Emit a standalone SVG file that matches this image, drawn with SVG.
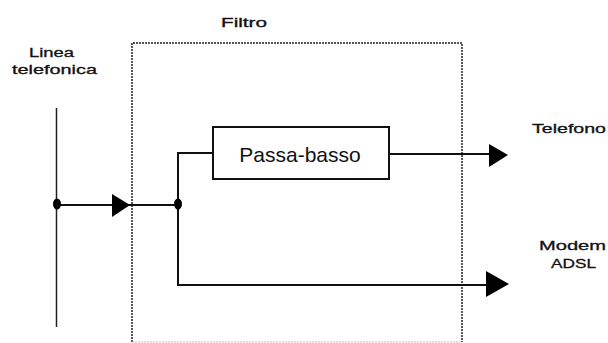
<svg xmlns="http://www.w3.org/2000/svg" width="608" height="343" viewBox="0 0 608 343">
<style>
.lbl{font-family:"Liberation Sans",Arial,sans-serif;font-size:13px;fill:#111;stroke:#111;stroke-width:0.3}
.wire{fill:none;stroke:#111;stroke-width:2}
.head{fill:#000}
</style>
<rect width="608" height="343" fill="#fff"/>
<g id="filtro">
<path d="M132,342 V43 H462 V342" fill="none" stroke="#222" stroke-width="1.5" stroke-dasharray="2,1"/>
<line x1="132" y1="342" x2="462" y2="342" stroke="#bbb" stroke-width="1" stroke-dasharray="2,1"/>
<text class="lbl" x="221" y="27" textLength="46" lengthAdjust="spacingAndGlyphs">Filtro</text>
</g>
<g id="linea">
<line x1="56.5" y1="108" x2="56.5" y2="327" stroke="#222" stroke-width="1.5"/>
<text class="lbl" x="29" y="57" textLength="45" lengthAdjust="spacingAndGlyphs">Linea</text>
<text class="lbl" x="12" y="74" textLength="85" lengthAdjust="spacingAndGlyphs">telefonica</text>
</g>
<g id="passa-basso">
<rect x="213" y="127" width="176" height="52" fill="#fff" stroke="#111" stroke-width="2"/>
<text x="300" y="162" style="font-family:'Liberation Sans',Arial,sans-serif;font-size:21px;fill:#111;text-anchor:middle">Passa-basso</text>
</g>
<g id="telefono">
<text class="lbl" x="532" y="133" textLength="74" lengthAdjust="spacingAndGlyphs">Telefono</text>
</g>
<g id="modem">
<text class="lbl" x="539" y="250" textLength="67" lengthAdjust="spacingAndGlyphs">Modem</text>
<text class="lbl" x="551" y="268" textLength="45" lengthAdjust="spacingAndGlyphs">ADSL</text>
</g>
<g id="connectors">
<path class="wire" d="M57,205 H178"/>
<path class="wire" d="M212,153 H178 V285 H490"/>
<path class="wire" d="M389,154 H490"/>
<polygon class="head" points="112,194 130,205 112,217"/>
<polygon class="head" points="489,144 508,155 489,167"/>
<polygon class="head" points="486,271 509,284 486,297"/>
<ellipse cx="57" cy="204" rx="4" ry="5.5"/>
<ellipse cx="178" cy="204" rx="4" ry="5.5"/>
</g>
</svg>
